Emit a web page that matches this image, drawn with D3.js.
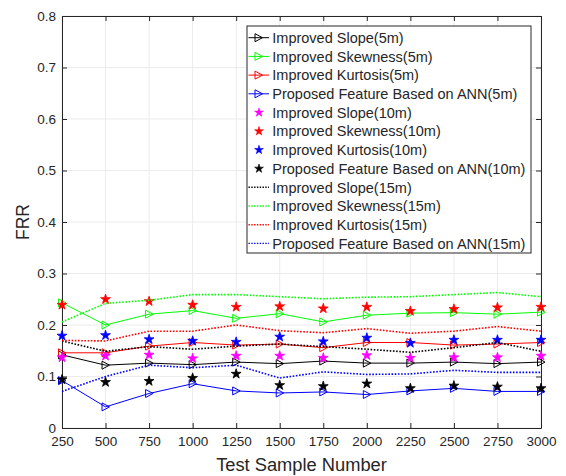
<!DOCTYPE html>
<html><head><meta charset="utf-8">
<script src="https://cdn.jsdelivr.net/npm/d3@7"></script>
<style>body{margin:0;background:#fff}svg{display:block}text{font-family:"Liberation Sans",Arial,sans-serif;fill:#262626}</style>
</head><body><svg id="c" width="566" height="476"></svg>
<script>
const xValues = [250,500,750,1000,1250,1500,1750,2000,2250,2500,2750,3000];
const xTicks = [250,500,750,1000,1250,1500,1750,2000,2250,2500,2750,3000];
const yTicks = [0,0.1,0.2,0.3,0.4,0.5,0.6,0.7,0.8];

const slope5 = [0.142,0.122,0.126,0.123,0.128,0.125,0.130,0.126,0.126,0.128,0.125,0.128];
const skew5  = [0.243,0.200,0.221,0.228,0.213,0.222,0.206,0.219,0.223,0.224,0.221,0.225];
const kurt5  = [0.146,0.146,0.159,0.166,0.161,0.163,0.156,0.166,0.166,0.161,0.163,0.166];
const ann5   = [0.092,0.041,0.067,0.086,0.072,0.068,0.070,0.065,0.072,0.077,0.071,0.071];
const slope10 = [0.137,0.140,0.142,0.135,0.140,0.140,0.136,0.141,0.136,0.137,0.137,0.140];
const skew10  = [0.239,0.250,0.246,0.239,0.235,0.236,0.232,0.235,0.227,0.231,0.234,0.235];
const kurt10  = [0.179,0.180,0.172,0.169,0.167,0.177,0.168,0.175,0.165,0.171,0.171,0.171];
const ann10   = [0.094,0.089,0.091,0.097,0.105,0.083,0.081,0.086,0.077,0.082,0.080,0.077];
const slope15 = [0.169,0.149,0.158,0.153,0.159,0.163,0.158,0.153,0.147,0.156,0.166,0.149];
const skew15  = [0.206,0.242,0.248,0.259,0.259,0.255,0.251,0.254,0.255,0.259,0.263,0.255];
const kurt15  = [0.170,0.169,0.188,0.188,0.200,0.189,0.185,0.193,0.184,0.188,0.197,0.188];
const ann15   = [0.071,0.100,0.122,0.117,0.122,0.097,0.109,0.104,0.105,0.112,0.108,0.108];

const series = [
  {name:"Improved Slope(5m)", v:slope5, color:"#000000", type:"tri"},
  {name:"Improved Skewness(5m)", v:skew5, color:"#00ff00", type:"tri"},
  {name:"Improved Kurtosis(5m)", v:kurt5, color:"#ff0000", type:"tri"},
  {name:"Proposed Feature Based on ANN(5m)", v:ann5, color:"#0000ff", type:"tri"},
  {name:"Improved Slope(10m)", v:slope10, color:"#ff00ff", type:"star"},
  {name:"Improved Skewness(10m)", v:skew10, color:"#ff0000", type:"star"},
  {name:"Improved Kurtosis(10m)", v:kurt10, color:"#0000ff", type:"star"},
  {name:"Proposed Feature Based on ANN(10m)", v:ann10, color:"#000000", type:"star"},
  {name:"Improved Slope(15m)", v:slope15, color:"#000000", type:"dot"},
  {name:"Improved Skewness(15m)", v:skew15, color:"#00ff00", type:"dot"},
  {name:"Improved Kurtosis(15m)", v:kurt15, color:"#ff0000", type:"dot"},
  {name:"Proposed Feature Based on ANN(15m)", v:ann15, color:"#0000ff", type:"dot"}
];

const L=62,R=541,T=16,B=428;
const svg=d3.select("#c");
const x=d3.scaleLinear().domain([250,3000]).range([L,R]);
const y=d3.scaleLinear().domain([0,0.8]).range([B,T]);

const g=svg.append("g");
g.selectAll(".gx").data(xTicks).join("line").attr("x1",d=>x(d)).attr("x2",d=>x(d)).attr("y1",T).attr("y2",B).attr("stroke","#ebebeb").attr("stroke-width",1);
g.selectAll(".gy").data(yTicks).join("line").attr("x1",L).attr("x2",R).attr("y1",d=>y(d)).attr("y2",d=>y(d)).attr("stroke","#ebebeb").attr("stroke-width",1);

const tl=5;
const ax=svg.append("g").attr("transform",`translate(0,${B})`).call(d3.axisBottom(x).tickValues(xTicks).tickFormat(d3.format("d")).tickSizeInner(-tl).tickSizeOuter(0).tickPadding(8));
const ay=svg.append("g").attr("transform",`translate(${L},0)`).call(d3.axisLeft(y).tickValues(yTicks).tickFormat(d=>d===0?"0":d3.format(".1f")(d)).tickSizeInner(-tl).tickSizeOuter(0).tickPadding(6));
const at=svg.append("g").attr("transform",`translate(0,${T})`).call(d3.axisTop(x).tickValues(xTicks).tickFormat("").tickSizeInner(-tl).tickSizeOuter(0));
const ar=svg.append("g").attr("transform",`translate(${R},0)`).call(d3.axisRight(y).tickValues(yTicks).tickFormat("").tickSizeInner(-tl).tickSizeOuter(0));
[ax,ay,at,ar].forEach(a=>{a.selectAll("path").attr("stroke","#262626").attr("stroke-width",1);a.selectAll("line").attr("stroke","#262626");a.selectAll("text").attr("font-size","13.5px").attr("fill","#262626").style("font-family","'Liberation Sans',Arial,sans-serif");});
ax.selectAll("text").attr("dy","0.71em");

svg.append("text").attr("x",(L+R)/2).attr("y",471).attr("text-anchor","middle").attr("font-size","18.3px").text("Test Sample Number");
svg.append("text").attr("transform",`translate(29,${(T+B)/2}) rotate(-90)`).attr("text-anchor","middle").attr("font-size","17.5px").text("FRR");

const triPath = "M-3.5,-4 L4,0 L-3.5,4 Z";
const star = d3.symbol().type(d3.symbolStar).size(30)();
const starL = d3.symbol().type(d3.symbolStar).size(24)();
const line=d3.line().x((d,i)=>x(xValues[i])).y(d=>y(d));

const plot=svg.append("g");
series.forEach(s=>{
  if(s.type!=="star"){
    plot.append("path").datum(s.v).attr("d",line).attr("fill","none").attr("stroke",s.color).attr("stroke-width",s.type==="dot"?1.6:1)
      .attr("stroke-dasharray",s.type==="dot"?"1.6,1.6":null);
  }
  if(s.type==="tri"){
    plot.selectAll(null).data(s.v).join("path").attr("d",triPath).attr("transform",(d,i)=>`translate(${x(xValues[i])},${y(d)})`).attr("fill","none").attr("stroke",s.color).attr("stroke-width",1);
  }
  if(s.type==="star"){
    plot.selectAll(null).data(s.v).join("path").attr("d",star).attr("transform",(d,i)=>`translate(${x(xValues[i])},${y(d)})`).attr("fill",s.color).attr("stroke",s.color).attr("stroke-width",0.8).attr("stroke-linejoin","round");
  }
});

const lx=247, ly=26, lw=284, lh=227;
const lg=svg.append("g");
lg.append("rect").attr("x",lx).attr("y",ly).attr("width",lw).attr("height",lh).attr("fill","#fff").attr("stroke","#262626").attr("stroke-width",1);
series.forEach((s,i)=>{
  const cy=37.7+i*18.7;
  if(s.type!=="star"){
    lg.append("line").attr("x1",248.5).attr("x2",269).attr("y1",cy).attr("y2",cy).attr("stroke",s.color).attr("stroke-width",s.type==="dot"?1.4:1).attr("stroke-dasharray",s.type==="dot"?"1.4,1.4":null);
  }
  if(s.type==="tri") lg.append("path").attr("d",triPath).attr("transform",`translate(258.5,${cy})`).attr("fill","none").attr("stroke",s.color);
  if(s.type==="star") lg.append("path").attr("d",starL).attr("transform",`translate(259,${cy})`).attr("fill",s.color).attr("stroke",s.color).attr("stroke-width",0.6);
  lg.append("text").attr("x",272.3).attr("y",cy).attr("dy","0.36em").attr("font-size","14.5px").text(s.name);
});
</script></body></html>
